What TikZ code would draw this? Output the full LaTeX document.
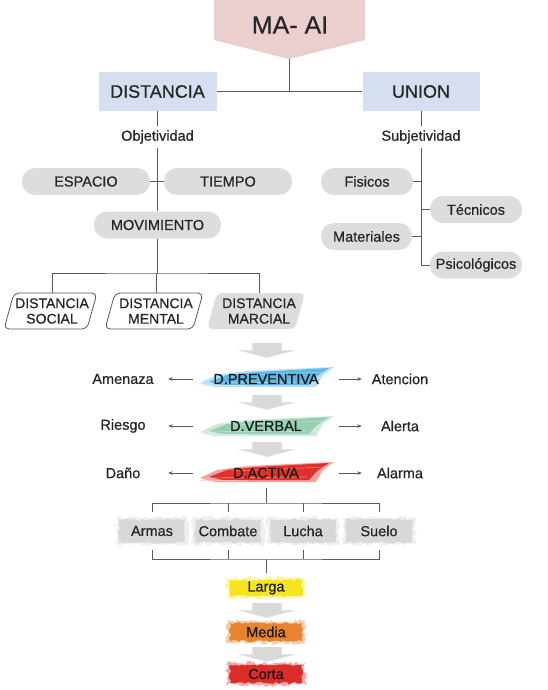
\documentclass[tikz,border=0pt]{standalone}
\usepackage{fontspec}
\setmainfont{Liberation Sans}[FakeBold=0.6]
\usetikzlibrary{arrows.meta,decorations.pathmorphing}
\definecolor{txt}{HTML}{262626}
\definecolor{dtxt}{HTML}{1A1A1A}
\definecolor{pill}{HTML}{DDDDDD}
\definecolor{boxblue}{HTML}{D6DFEF}
\definecolor{boxpink}{HTML}{EBCFCF}
\definecolor{lin}{HTML}{5A5A5A}
\definecolor{agray}{HTML}{D9D9D9}
\definecolor{tgray}{HTML}{D8D8D8}
\definecolor{bblue}{HTML}{5DB8E6}
\definecolor{bgreen}{HTML}{95D1B0}
\definecolor{bred}{HTML}{E0302B}
\definecolor{byel}{HTML}{F4E51C}
\definecolor{bora}{HTML}{E8842F}
\definecolor{bcor}{HTML}{DC2B2B}
\begin{document}
\begin{tikzpicture}[x=1pt,y=-1pt,
  every node/.style={text=txt, inner sep=2pt},
  conn/.style={draw=lin, line width=0.8pt},
  arr/.style={draw=lin, line width=0.7pt, -{Stealth[length=4.5pt,width=3.5pt]}},
  fs/.style={font=\fontsize{14.5}{15.5}\selectfont},
  head/.style={font=\fontsize{18}{21}\selectfont, fill=boxblue, minimum height=39pt},
  pillbox/.style={fs, fill=pill, rounded corners=13pt, minimum height=27pt},
  paratext/.style={font=\fontsize{14}{15.5}\selectfont, align=center, minimum height=36pt, inner sep=0pt},
  dnode/.style={fs, text=dtxt, minimum width=146pt, minimum height=30pt},
  pics/downarr/.style={code={
    \fill[agray!70] (-15,0) -- (15,0) -- (15,7) -- (30,7) -- (0,15) -- (-30,7) -- (-15,7) -- cycle;
    \fill[agray] (-14,0) -- (14,0) -- (14,8) -- (24,8) -- (0,14) -- (-24,8) -- (-14,8) -- cycle;}},
  pics/brush/.style={code={
    \fill[#1!45] (-67,5) -- (-50,-3) -- (-20,-7) -- (67,-11) -- (56,-3) -- (49,9) -- (-52,9) -- cycle;
    \fill[#1] (-58,4) -- (-40,-3) -- (-10,-6) -- (62,-10) -- (50,-2) -- (42,7) -- (-45,7) -- cycle;
    \draw[white, opacity=0.45, line width=0.7pt] (-60,5) -- (40,4);
    \draw[white, opacity=0.35, line width=0.6pt] (-35,-2) -- (58,-6);
    \draw[#1!30, line width=1pt] (-66,7) -- (-20,8);}},
  pics/torn/.style args={#1/#2/#3}{code={
    \fill[#1!40, decorate, decoration={random steps, segment length=2.5pt, amplitude=2pt}]
      (-#2/2-3,-#3/2-2) -- (#2/2+3,-#3/2-2) -- (#2/2+3,#3/2+2) -- (-#2/2-3,#3/2+2) -- cycle;
    \fill[#1, decorate, decoration={random steps, segment length=3pt, amplitude=1.2pt}]
      (-#2/2,-#3/2) -- (#2/2,-#3/2) -- (#2/2,#3/2) -- (-#2/2,#3/2) -- cycle;}}
]
\useasboundingbox (0,0) rectangle (547,690);

% title
\fill[boxpink] (214,-2) -- (365,-2) -- (365,40) -- (289,59) -- (214,40) -- cycle;
\node[font=\fontsize{25}{28}\selectfont] (title) at (290,25) {MA- AI};
\coordinate (apex) at (289,59);
\coordinate (jt) at (289,91.5);

\node[head, minimum width=118pt] (dist) at (157.5,91.5) {DISTANCIA};
\node[head, minimum width=117pt] (union) at (421,91.5) {UNION};
\draw[conn] (apex) -- (jt);
\draw[conn] (dist) -- (union);

% left branch
\node[fs, inner sep=4pt] (obj) at (157.5,137) {Objetividad};
\draw[conn] (dist) -- (obj);
\node[pillbox, minimum width=128pt] (esp) at (86,181.5) {ESPACIO};
\node[pillbox, minimum width=128pt] (tie) at (228,181.5) {TIEMPO};
\node[pillbox, minimum width=127pt] (mov) at (157.5,225) {MOVIMIENTO};
\draw[conn] (obj) -- (mov);
\draw[conn] (esp) -- (tie);

\draw[lin, line width=0.8pt, fill=white, rounded corners=5pt] (4,329) -- (14,293) -- (97,293) -- (87,329) -- cycle;
\draw[lin, line width=0.8pt, fill=white, rounded corners=5pt] (105,329) -- (115,293) -- (203,293) -- (193,329) -- cycle;
\fill[pill, rounded corners=5pt] (207,329) -- (217,293) -- (305,293) -- (295,329) -- cycle;
\node[paratext] (ds) at (52,311) {DISTANCIA\\SOCIAL};
\node[paratext] (dmen) at (156,311) {DISTANCIA\\MENTAL};
\node[paratext] (dmar) at (259,311) {DISTANCIA\\MARCIAL};
\coordinate (j1) at (157.5,273);
\draw[conn] (mov) -- (j1);
\draw[conn] (ds.north) |- (j1) -| (dmar.north);
\draw[conn] (dmen.north |- j1) -- (dmen.north);

% right branch
\node[fs, inner sep=4pt] (subj) at (421,137) {Subjetividad};
\draw[conn] (union) -- (subj);
\node[pillbox, minimum width=92pt] (fis) at (367,181.5) {Fisicos};
\node[pillbox, minimum width=92pt] (tec) at (476,209.5) {Técnicos};
\node[pillbox, minimum width=91pt] (mat) at (366.5,236.5) {Materiales};
\node[pillbox, minimum width=92pt] (psi) at (476,265) {Psicológicos};
\draw[conn] (subj) |- (psi);
\draw[conn] (fis) -- (fis -| subj);
\draw[conn] (tec) -- (tec -| subj);
\draw[conn] (mat) -- (mat -| subj);

% levels
\pic at (267,343) {downarr};
\pic at (267,378) {brush=bblue};
\node[dnode] (dpre) at (266,379) {D.PREVENTIVA};
\node[fs, minimum width=90pt] (ame) at (123,379) {Amenaza};
\node[fs, minimum width=76pt] (ate) at (400,379) {Atencion};
\draw[arr] (dpre) -- (ame);
\draw[arr] (dpre) -- (ate);

\pic at (267,395) {downarr};
\pic at (267,427) {brush=bgreen};
\node[dnode] (dver) at (266,426) {D.VERBAL};
\node[fs, minimum width=90pt] (rie) at (123,426) {Riesgo};
\node[fs, minimum width=76pt] (ale) at (400,426) {Alerta};
\draw[arr] (dver) -- (rie);
\draw[arr] (dver) -- (ale);

\pic at (267,442) {downarr};
\pic at (267,473) {brush=bred};
\node[dnode] (dact) at (266,473) {D.ACTIVA};
\node[fs, minimum width=90pt] (dan) at (123,473) {Daño};
\node[fs, minimum width=76pt] (ala) at (400,473) {Alarma};
\draw[arr] (dact) -- (dan);
\draw[arr] (dact) -- (ala);

% techniques
\pic at (152,531) {torn=tgray/66/23};
\pic at (228,531) {torn=tgray/66/23};
\pic at (303,531) {torn=tgray/66/23};
\pic at (379,531) {torn=tgray/66/23};
\node[fs, minimum height=38pt] (arm) at (152,531) {Armas};
\node[fs, minimum height=38pt] (com) at (228,531) {Combate};
\node[fs, minimum height=38pt] (luc) at (303,531) {Lucha};
\node[fs, minimum height=38pt] (sue) at (379,531) {Suelo};
\coordinate (j3) at (266,503);
\draw[conn] (dact) -- (j3);
\draw[conn] (arm.north) |- (j3) -| (sue.north);
\draw[conn] (com.north) -- (com.north |- j3);
\draw[conn] (luc.north) -- (luc.north |- j3);
\coordinate (j4) at (266,559);
\draw[conn] (arm.south) |- (j4) -| (sue.south);
\draw[conn] (com.south) -- (com.south |- j4);
\draw[conn] (luc.south) -- (luc.south |- j4);

% ranges
\pic at (266,588) {torn=byel/72/16};
\node[fs, text=dtxt, minimum height=30pt] (lar) at (266,588) {Larga};
\draw[conn] (j4) -- (lar);
\pic at (267,603) {downarr};
\pic at (266,632) {torn=bora/72/18};
\node[fs, text=dtxt] (med) at (266,632) {Media};
\pic at (267,647) {downarr};
\pic at (266,674) {torn=bcor/72/18};
\node[fs, text=dtxt] (cor) at (266,674) {Corta};
\end{tikzpicture}
\end{document}
